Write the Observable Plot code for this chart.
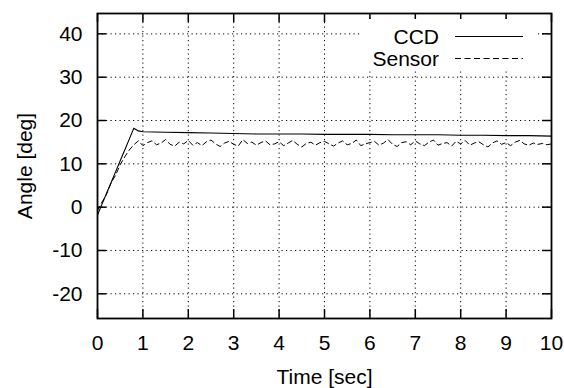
<!DOCTYPE html>
<html>
<head>
<meta charset="utf-8">
<script src="https://cdn.jsdelivr.net/npm/d3@7"></script>
<script src="https://cdn.jsdelivr.net/npm/@observablehq/plot@0.6"></script>
<style>
  html, body { margin: 0; padding: 0; background: #fff; }
  #wrap { position: relative; width: 564px; height: 388px; }
  #legend { position: absolute; left: 0; top: 0; pointer-events: none; }
  text { font-family: "Liberation Sans", Arial, Helvetica, sans-serif; }
</style>
</head>
<body>
<div id="wrap"></div>
<script>
// ---- data ----
const xTicks = [0, 1, 2, 3, 4, 5, 6, 7, 8, 9, 10];
const yTicks = [-20, -10, 0, 10, 20, 30, 40];
const seriesNames = ["CCD", "Sensor"];

const ccdTime  = [0, 0.1, 0.2, 0.3, 0.4, 0.5, 0.6, 0.7, 0.8, 0.9, 1.0, 1.5, 2.0, 2.5, 3.0, 3.5, 4.0, 4.5, 5.0, 5.5, 6.0, 6.5, 7.0, 7.5, 8.0, 8.5, 9.0, 9.5, 10.0];
const ccdAngle = [-1.8, 0.7, 3.2, 5.7, 8.2, 10.7, 13.2, 15.7, 18.2, 17.6, 17.4, 17.3, 17.2, 17.1, 17.0, 16.9, 16.9, 16.9, 16.8, 16.8, 16.8, 16.7, 16.7, 16.7, 16.6, 16.6, 16.5, 16.5, 16.4];

const sensorStart = 0, sensorStep = 0.1;
const sensorAngle = [
  -0.8, 1.2, 3.0, 5.6, 7.4, 9.8, 11.6, 13.2, 14.4, 15.3,
  14.2, 14.9, 15.3, 14.4, 14.8, 15.6, 14.5, 14.1, 15.0, 14.6,
  15.4, 14.3, 14.9, 14.2, 15.1, 15.5, 14.6, 14.0, 14.8, 15.2,
  14.5, 14.1, 15.6, 14.7, 15.0, 14.3, 14.9, 15.3, 14.4, 14.6,
  15.1, 14.2, 14.8, 15.4, 14.5, 13.9, 14.7, 15.0, 14.3, 14.9,
  15.2, 14.6, 14.1, 14.8, 15.3, 14.4, 14.7, 15.5, 14.2, 14.6,
  14.9, 15.2, 14.3, 14.8, 15.6, 14.5, 14.0, 14.9, 15.1, 14.4,
  15.3, 14.6, 14.2, 15.0, 15.5, 14.3, 14.7, 14.9, 14.1, 15.2,
  14.6, 15.4, 14.3, 14.8, 15.1, 14.4, 13.9, 14.8, 15.3, 14.5,
  14.9, 14.2, 15.0, 15.4, 14.6, 14.3, 14.8, 14.5, 14.7, 14.4,
  14.6
];

// ---- tables ----
const ccd = ccdTime.map((t, i) => ({t, a: ccdAngle[i]}));
const sensor = sensorAngle.map((a, i) => ({t: +(sensorStart + i * sensorStep).toFixed(2), a}));

// ---- layout ----
const W = 564, H = 388;
const mL = 97, mR = 13, mT = 13, mB = 70;
const innerW = W - mL - mR, innerH = H - mT - mB;
const tickLen = 9;
const FS = 21;
const font = '"Liberation Sans", Arial, Helvetica, sans-serif';

const plot = Plot.plot({
  width: W, height: H,
  marginLeft: mL, marginRight: mR, marginTop: mT, marginBottom: mB,
  style: {fontFamily: font, fontSize: FS + "px", background: "white", color: "black"},
  x: {domain: [0, 10]},
  y: {domain: [-25.7, 44.7]},
  marks: [
    Plot.gridX(xTicks, {stroke: "black", strokeOpacity: 1, strokeWidth: 1, strokeDasharray: "1.2,3.3"}),
    Plot.gridY(yTicks, {stroke: "black", strokeOpacity: 1, strokeWidth: 1, strokeDasharray: "1.2,3.3"}),
    Plot.line(sensor, {x: "t", y: "a", stroke: "black", strokeWidth: 1, strokeDasharray: "5,3.5"}),
    Plot.line(ccd, {x: "t", y: "a", stroke: "black", strokeWidth: 1.1}),
    // inward ticks on all four sides
    Plot.gridX(xTicks, {stroke: "black", strokeOpacity: 1, strokeWidth: 1.5, insetTop: innerH - tickLen}),
    Plot.gridX(xTicks, {stroke: "black", strokeOpacity: 1, strokeWidth: 1.5, insetBottom: innerH - tickLen}),
    Plot.gridY(yTicks, {stroke: "black", strokeOpacity: 1, strokeWidth: 1.5, insetRight: innerW - tickLen}),
    Plot.gridY(yTicks, {stroke: "black", strokeOpacity: 1, strokeWidth: 1.5, insetLeft: innerW - tickLen}),
    Plot.frame({stroke: "black", strokeWidth: 1.8}),
    Plot.axisX(xTicks, {tickSize: 0, tickPadding: 17, label: null, fontSize: FS, tickFormat: d => String(d)}),
    Plot.axisY(yTicks, {tickSize: 0, tickPadding: 15, label: null, fontSize: FS, tickFormat: d => String(d)}),
    Plot.text(["Time [sec]"], {frameAnchor: "bottom", dy: 59, fontSize: FS, textAnchor: "middle", lineAnchor: "middle"}),
    Plot.text(["Angle [deg]"], {frameAnchor: "left", dx: -72, rotate: -90, fontSize: FS, textAnchor: "middle", lineAnchor: "middle"})
  ]
});

const wrap = document.getElementById("wrap");
wrap.appendChild(plot);

// ---- legend (opaque key box, as in the original) ----
const ns = "http://www.w3.org/2000/svg";
const leg = document.createElementNS(ns, "svg");
leg.setAttribute("id", "legend");
leg.setAttribute("width", W);
leg.setAttribute("height", H);
const box = document.createElementNS(ns, "rect");
box.setAttribute("x", 362); box.setAttribute("y", 19);
box.setAttribute("width", 174); box.setAttribute("height", 50);
box.setAttribute("fill", "white");
leg.appendChild(box);
const rows = [
  {name: seriesNames[0], y: 36.5, dash: null},
  {name: seriesNames[1], y: 58.5, dash: "6,3.5"}
];
rows.forEach(r => {
  const t = document.createElementNS(ns, "text");
  t.setAttribute("x", 439); t.setAttribute("y", r.y);
  t.setAttribute("text-anchor", "end");
  t.setAttribute("dominant-baseline", "central");
  t.setAttribute("font-size", FS);
  t.setAttribute("font-family", font);
  t.textContent = r.name;
  leg.appendChild(t);
  const l = document.createElementNS(ns, "line");
  l.setAttribute("x1", 455); l.setAttribute("x2", 523);
  l.setAttribute("y1", r.y); l.setAttribute("y2", r.y);
  l.setAttribute("stroke", "black");
  l.setAttribute("stroke-width", 1);
  if (r.dash) l.setAttribute("stroke-dasharray", r.dash);
  leg.appendChild(l);
});
wrap.appendChild(leg);
</script>
</body>
</html>
